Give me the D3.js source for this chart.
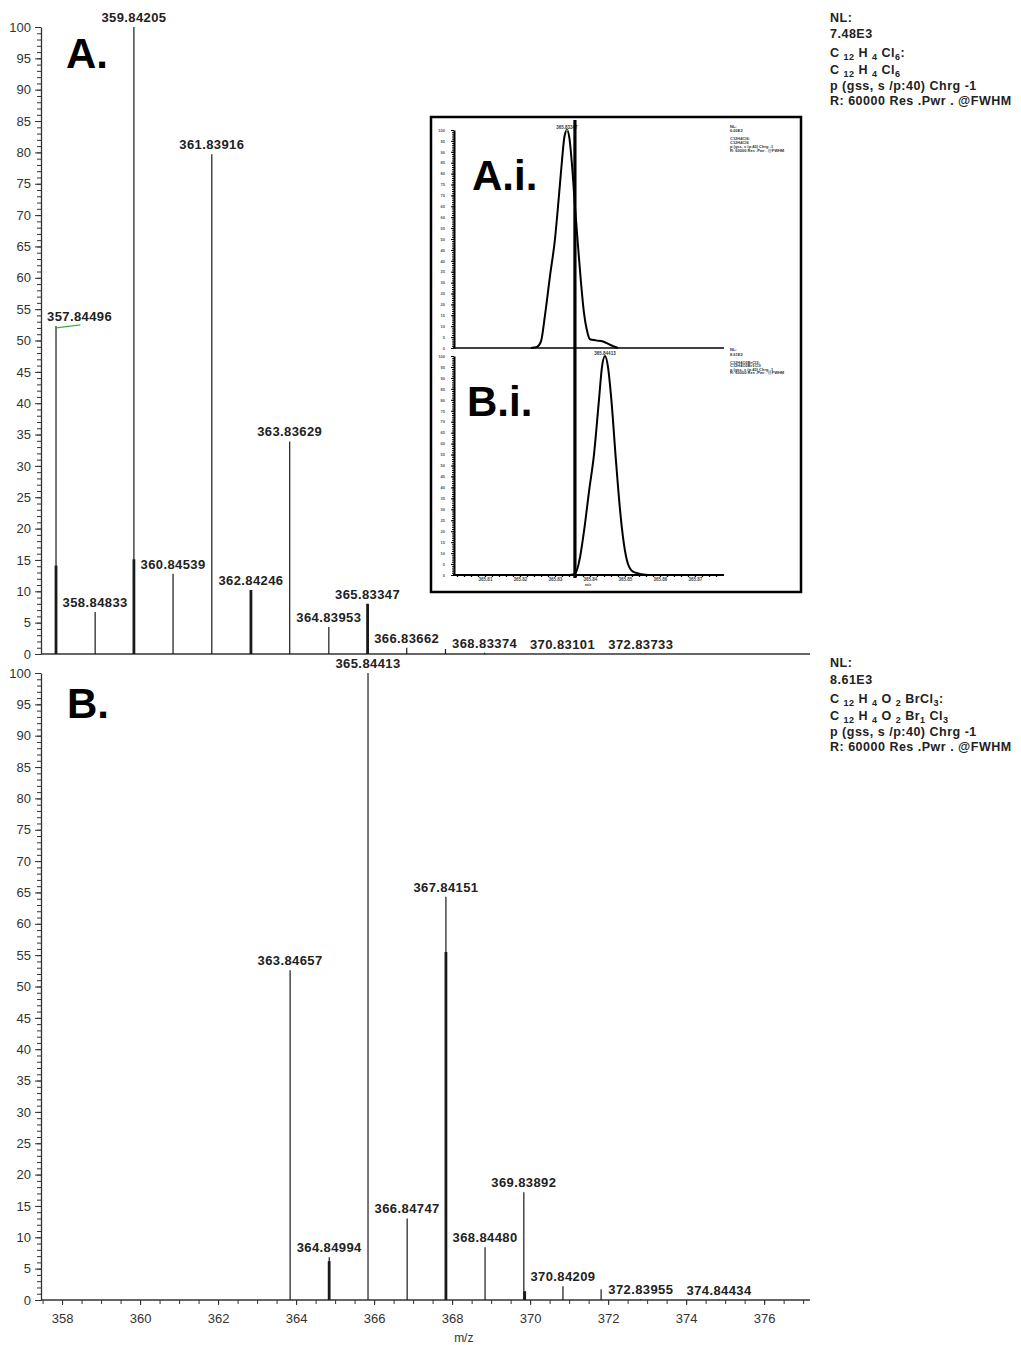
<!DOCTYPE html>
<html><head><meta charset="utf-8">
<script src="https://cdn.jsdelivr.net/npm/d3@7"></script>
<style>body{margin:0;background:#fff}svg{display:block}text{font-family:"Liberation Sans",Arial,sans-serif}</style>
</head><body><svg id="c" width="1021" height="1345"></svg>
<script>
// ---------- data ----------
const mzA  = [357.84496, 358.84833, 359.84205, 360.84539, 361.83916, 362.84246, 363.83629, 364.83953, 365.83347, 366.83662, 367.8300, 368.83374, 370.83101, 372.83733];
const intA = [52.3, 6.7, 100, 12.8, 79.7, 10.2, 33.9, 4.3, 8.0, 1.0, 0.8, 0.2, 0.05, 0.05];
const labA = ["357.84496","358.84833","359.84205","360.84539","361.83916","362.84246","363.83629","364.83953","365.83347","366.83662","","368.83374","370.83101","372.83733"];
const stubMzA  = [357.84496, 359.84205, 362.84246, 365.83347];
const stubIntA = [14.1, 15.1, 10.2, 8.0];
const greenMzA  = [357.8470, 358.47];
const greenIntA = [52.0, 52.5];

const mzB  = [363.84657, 364.84994, 365.84413, 366.84747, 367.84151, 368.84480, 369.83892, 370.84209, 371.8200, 372.83955, 374.84434];
const intB = [52.6, 6.8, 100, 13.0, 64.3, 8.4, 17.2, 2.2, 1.7, 0.1, 0.05];
const labB = ["363.84657","364.84994","365.84413","366.84747","367.84151","368.84480","369.83892","370.84209","","372.83955","374.84434"];
const stubMzB  = [364.8480, 367.84151, 369.8600];
const stubIntB = [6.2, 55.5, 1.4];

const yTickVals = [0,5,10,15,20,25,30,35,40,45,50,55,60,65,70,75,80,85,90,95,100];
const xTickVals = [358,360,362,364,366,368,370,372,374,376];
const xAxisTitle = "m/z";

const noteA = [
  [["NL:",0]],
  [["7.48E3",0]],
  [["C ",0],["12",1],[" H ",0],["4",1],[" Cl",0],["6",1],[":",0]],
  [["C ",0],["12",1],[" H ",0],["4",1],[" Cl",0],["6",1]],
  [["p (gss, s /p:40) Chrg -1",0]],
  [["R: 60000 Res .Pwr . @FWHM",0]]
];
const noteB = [
  [["NL:",0]],
  [["8.61E3",0]],
  [["C ",0],["12",1],[" H ",0],["4",1],[" O ",0],["2",1],[" BrCl",0],["3",1],[":",0]],
  [["C ",0],["12",1],[" H ",0],["4",1],[" O ",0],["2",1],[" Br",0],["1",1],[" Cl",0],["3",1]],
  [["p (gss, s /p:40) Chrg -1",0]],
  [["R: 60000 Res .Pwr . @FWHM",0]]
];

// inset profiles
const profA_mz  = [365.82314,365.82486,365.82600,365.82714,365.82857,365.83000,365.83114,365.83200,365.83271,365.83343,365.83414,365.83486,365.83571,365.83657,365.83743,365.83829,365.83914,365.84000,365.84171,365.84371,365.84571,365.84800];
const profA_int = [0,0.5,3,15,33,50,70,86,97,100,96,84,65,47,30,16,8,4,3.5,3,1.5,0];
const profB_mz  = [365.83429,365.83571,365.83714,365.83829,365.83971,365.84114,365.84257,365.84343,365.84429,365.84514,365.84600,365.84743,365.84857,365.84971,365.85086,365.85229,365.85429,365.85657];
const profB_int = [0,0.5,8,20,38,55,80,95,100,95,82,52,30,14,5,1.5,0.5,0];
const insetXTicks = [365.81,365.82,365.83,365.84,365.85,365.86,365.87];
const markerMz = 365.8357;
const insetNoteA = ["NL:","6.00E2","C12H4Cl6:","C12H4Cl6","p (gss, s /p:40) Chrg -1","R: 60000 Res .Pwr . @FWHM"];
const insetNoteB = ["NL:","8.61E2","C12H4O2BrCl3:","C12H4O2Br1Cl3","p (gss, s /p:40) Chrg -1","R: 60000 Res .Pwr . @FWHM"];

// ---------- drawing ----------
const svg = d3.select("#c");
svg.append("rect").attr("width",1021).attr("height",1345).attr("fill","#fff");
const x = d3.scaleLinear().domain([357.46, 377.15]).range([41, 809]);
const INK = "#1a1a1a";

function drawPanel(yTop, yBot, mz, inten, lab, sMz, sInt, withX) {
  const y = d3.scaleLinear().domain([0,100]).range([yBot, yTop]);
  const g = svg.append("g");
  g.append("g").attr("transform","translate(41,0)")
    .call(d3.axisLeft(y).tickValues(d3.range(0,101,1)).tickSize(4).tickFormat(""))
    .call(a=>a.select(".domain").remove())
    .call(a=>a.selectAll("line").attr("stroke","#333"));
  g.append("g").attr("transform","translate(41,0)")
    .call(d3.axisLeft(y).tickValues(yTickVals).tickSize(6).tickSizeOuter(0).tickPadding(4))
    .call(a=>a.select(".domain").attr("stroke","#333").attr("stroke-width",1.3))
    .call(a=>a.selectAll("line").attr("stroke","#333"))
    .call(a=>a.selectAll("text").attr("font-size",13).attr("fill","#333").attr("font-family","'Liberation Sans',Arial,sans-serif"));
  g.append("line").attr("x1",41).attr("x2",810).attr("y1",yBot).attr("y2",yBot).attr("stroke","#333").attr("stroke-width",1.4);
  if (withX) {
    g.append("g").attr("transform",`translate(0,${yBot})`)
      .call(d3.axisBottom(x).tickValues(d3.range(357.5,377.01,0.5)).tickSize(4).tickFormat(""))
      .call(a=>a.select(".domain").remove())
      .call(a=>a.selectAll("line").attr("stroke","#333"));
    g.append("g").attr("transform",`translate(0,${yBot})`)
      .call(d3.axisBottom(x).tickValues(xTickVals).tickSize(5).tickSizeOuter(0).tickPadding(9).tickFormat(d3.format("d")))
      .call(a=>a.select(".domain").remove())
      .call(a=>a.selectAll("line").attr("stroke","#333"))
      .call(a=>a.selectAll("text").attr("font-size",13).attr("fill","#333").attr("font-family","'Liberation Sans',Arial,sans-serif"));
    g.append("text").attr("x",x(368.3)).attr("y",yBot+42).attr("text-anchor","middle")
      .attr("font-size",12).attr("fill","#333").text(xAxisTitle);
  }
  g.selectAll(".pk").data(mz.map((m,i)=>({m,v:inten[i]}))).join("line")
    .attr("x1",d=>x(d.m)).attr("x2",d=>x(d.m)).attr("y1",yBot).attr("y2",d=>y(d.v))
    .attr("stroke",INK).attr("stroke-width",1.2);
  g.selectAll(".st").data(sMz.map((m,i)=>({m,v:sInt[i]}))).join("line")
    .attr("x1",d=>x(d.m)).attr("x2",d=>x(d.m)).attr("y1",yBot).attr("y2",d=>y(d.v))
    .attr("stroke",INK).attr("stroke-width",2.8);
  mz.forEach((m,i)=>{
    if (!lab[i]) return;
    const t = g.append("text").attr("x",x(m)).attr("y",y(inten[i])-5).attr("text-anchor","middle")
      .attr("font-size",13).attr("font-weight","bold").attr("fill","#222").attr("letter-spacing","0.4")
      .text(lab[i]);
    const w = t.node().getComputedTextLength();
    const minC = 41 + 6 + w/2;
    if (x(m) < minC) t.attr("x", minC);
  });
  return y;
}

const yA = drawPanel(27, 654, mzA, intA, labA, stubMzA, stubIntA, false);
const yB = drawPanel(673, 1300, mzB, intB, labB, stubMzB, stubIntB, true);

svg.append("line").attr("x1",x(greenMzA[0])).attr("x2",x(greenMzA[1]))
  .attr("y1",yA(greenIntA[0])).attr("y2",yA(greenIntA[1])).attr("stroke","#3cb043").attr("stroke-width",1.2);

svg.append("text").attr("x",66).attr("y",68).attr("font-size",42).attr("font-weight","bold").attr("fill","#000").text("A.");
svg.append("text").attr("x",67).attr("y",718).attr("font-size",42).attr("font-weight","bold").attr("fill","#000").text("B.");

function drawNote(note, ys) {
  note.forEach((segs,i)=>{
    const t = svg.append("text").attr("x",830).attr("y",ys[i]+4).attr("font-size",12.5)
      .attr("font-weight","bold").attr("fill","#222").attr("letter-spacing","0.5");
    let prev = 0;
    segs.forEach(([s,sub])=>{
      const shift = (sub?3:0) - (prev?3:0);
      t.append("tspan").attr("font-size",sub?9:12.5).attr("dy",shift).text(s);
      prev = sub;
    });
  });
}
drawNote(noteA, [18,34,53,70,86,101]);
drawNote(noteB, [663,680,699,716,732,747]);

// ---------- inset ----------
const ins = svg.append("g");
ins.append("rect").attr("x",431).attr("y",117).attr("width",370).attr("height",475)
  .attr("fill","#fff").attr("stroke","#000").attr("stroke-width",2.5);
const xi = d3.scaleLinear().domain([365.80086, 365.87829]).range([453, 724]);
function insetPanel(yTop, yBot, pm, pi, labelTxt, noteArr, noteY, showX, big, bigX) {
  const yi = d3.scaleLinear().domain([0,100]).range([yBot, yTop]);
  ins.append("g").attr("transform","translate(454,0)")
    .call(d3.axisLeft(yi).tickValues(d3.range(0,101,1)).tickSize(2).tickFormat(""))
    .call(a=>a.select(".domain").remove())
    .call(a=>a.selectAll("line").attr("stroke","#000"));
  ins.append("g").attr("transform","translate(454,0)")
    .call(d3.axisLeft(yi).tickValues(d3.range(0,101,5)).tickSize(3).tickSizeOuter(0).tickPadding(6))
    .call(a=>a.select(".domain").attr("stroke","#000").attr("stroke-width",2))
    .call(a=>a.selectAll("line").attr("stroke","#000"))
    .call(a=>a.selectAll("text").attr("font-size",4).attr("font-weight","bold").attr("fill","#555"));
  ins.append("line").attr("x1",453).attr("x2",724).attr("y1",yBot).attr("y2",yBot).attr("stroke","#000").attr("stroke-width",showX?2:1.3);
  if (showX) {
    ins.append("g").attr("transform",`translate(0,${yBot})`)
      .call(d3.axisBottom(xi).tickValues(d3.range(365.802,365.878,0.002)).tickSize(2).tickFormat(""))
      .call(a=>a.select(".domain").remove())
      .call(a=>a.selectAll("line").attr("stroke","#000").attr("stroke-width",1.3));
    ins.append("g").attr("transform",`translate(0,${yBot})`)
      .call(d3.axisBottom(xi).tickValues(insetXTicks).tickSize(2).tickPadding(1).tickFormat(d3.format(".2f")))
      .call(a=>a.select(".domain").remove())
      .call(a=>a.selectAll("line").attr("stroke","#000"))
      .call(a=>a.selectAll("text").attr("font-size",4.5).attr("font-weight","bold").attr("fill","#444"));
    ins.append("text").attr("x",588).attr("y",586).attr("text-anchor","middle").attr("font-size",4).attr("font-weight","bold").attr("fill","#444").text("m/z");
  }
  const line = d3.line().x((d,i)=>xi(pm[i])).y((d,i)=>yi(pi[i])).curve(d3.curveMonotoneX);
  ins.append("path").attr("d",line(pm)).attr("fill","none").attr("stroke","#000").attr("stroke-width",2);
  const pk = d3.maxIndex(pi);
  ins.append("text").attr("x",xi(pm[pk])).attr("y",yi(100)-1.5).attr("text-anchor","middle")
    .attr("font-size",4.5).attr("font-weight","bold").attr("fill","#333").text(labelTxt);
  noteArr.forEach((s,i)=>{
    ins.append("text").attr("x",730).attr("y",noteY[i]).attr("font-size",4).attr("font-weight","bold").attr("fill","#333").text(s);
  });
  ins.append("text").attr("x",bigX).attr("y",yTop+60).attr("font-size",42).attr("font-weight","bold").attr("fill","#000").text(big);
  return yi;
}
const yiA = insetPanel(130, 348, profA_mz, profA_int, "365.83347", insetNoteA, [128,132,140,144,148,152], false, "A.i.", 472);
const yiB = insetPanel(356, 575, profB_mz, profB_int, "365.84413", insetNoteB, [351,356,364,367,371,374], true, "B.i.", 467);
ins.append("line").attr("x1",xi(365.8330)).attr("x2",xi(365.8337)).attr("y1",yiA(100)+0.5).attr("y2",yiA(100)+0.5).attr("stroke","#3cb043").attr("stroke-width",1.5);
ins.append("line").attr("x1",xi(markerMz)).attr("x2",xi(markerMz)).attr("y1",120).attr("y2",578).attr("stroke","#000").attr("stroke-width",3.2);
</script></body></html>
